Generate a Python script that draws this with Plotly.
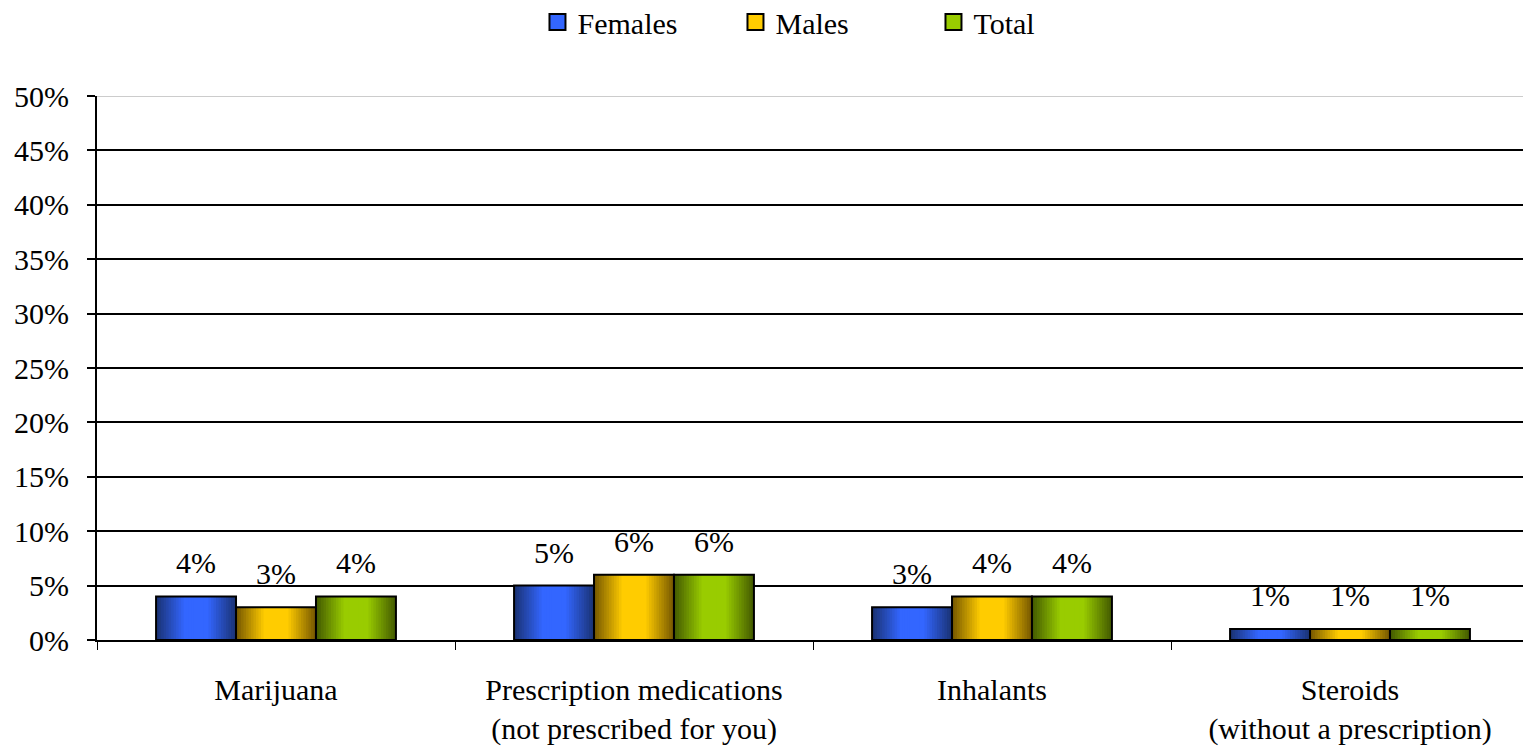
import plotly.graph_objects as go

categories = ["Marijuana", "Prescription medications<br>(not prescribed for you)", "Inhalants", "Steroids<br>(without a prescription)"]
females = [0.04, 0.05, 0.03, 0.01]
males = [0.03, 0.06, 0.04, 0.01]
total = [0.04, 0.06, 0.04, 0.01]
series_names = ["Females", "Males", "Total"]
series_values = [females, males, total]
bright_colors = ["#3366FF", "#FFCC00", "#99CC00"]
dark_colors = ["#1B3478", "#7A5B00", "#465E00"]

FONT = "Liberation Serif"
FS = 30
BAR_PX = 80      # pixel width of one bar (for label centring)
GROUP_FRAC = 0.67  # fraction of category occupied by bar group
N_LAYERS = 16    # layers used to imitate the horizontal shading


def hex2rgb(h):
    h = h.lstrip("#")
    return tuple(int(h[j:j + 2], 16) for j in (0, 2, 4))


def mix(c1, c2, t):
    a, b = hex2rgb(c1), hex2rgb(c2)
    return "rgb({},{},{})".format(*[round(a[j] + (b[j] - a[j]) * t) for j in range(3)])


bw = GROUP_FRAC / len(series_names)
fig = go.Figure()
for i, (name, vals) in enumerate(zip(series_names, series_values)):
    center = (i - (len(series_names) - 1) / 2) * bw
    for k in range(N_LAYERS):
        w = bw * (1 - k / N_LAYERS)
        t = min(1.0, k / (N_LAYERS * 0.68))
        fig.add_trace(go.Bar(
            x=categories, y=vals, showlegend=False, hoverinfo="skip" if k else None,
            width=w, offset=center - w / 2,
            marker=dict(color=mix(dark_colors[i], bright_colors[i], t), line=dict(width=0)),
        ))
    # outline
    fig.add_trace(go.Bar(
        x=categories, y=vals, name=name, showlegend=False, hoverinfo="skip",
        width=bw, offset=center - bw / 2,
        marker=dict(color="rgba(0,0,0,0)", line=dict(color="black", width=2)),
    ))
    # legend entry
    fig.add_trace(go.Scatter(
        x=[None], y=[None], mode="markers", name=name, showlegend=True,
        marker=dict(symbol="square", size=16, color=bright_colors[i], line=dict(color="black", width=2)),
    ))
    for cat, v in zip(categories, vals):
        fig.add_annotation(x=cat, y=v, text=f"{v:.0%}", showarrow=False,
                           yanchor="bottom", yshift=15, xshift=(i - 1) * BAR_PX,
                           font=dict(family=FONT, size=FS, color="black"))

fig.update_layout(
    width=1523, height=740,
    margin=dict(l=89, r=2, t=88, b=108, autoexpand=False),
    paper_bgcolor="white", plot_bgcolor="white",
    barmode="overlay",
    font=dict(family=FONT, size=FS, color="black"),
    legend=dict(orientation="h", x=0.515, xanchor="center", y=1.136, yanchor="middle",
                yref="paper", font=dict(family=FONT, size=FS), entrywidth=153,
                itemsizing="trace"),
    showlegend=True,
)
fig.update_xaxes(range=[-0.5, len(categories) - 0.5], showline=True, linecolor="black",
                 linewidth=2, ticks="outside", tickson="boundaries", ticklen=8, tickwidth=1,
                 tickcolor="black", ticklabelstandoff=22, tickfont=dict(family=FONT, size=FS))
fig.update_yaxes(range=[0, 0.5], dtick=0.05, tickformat=".0%", showline=True,
                 linecolor="black", linewidth=2, ticks="outside", ticklen=8,
                 tickcolor="black", tickwidth=2, showgrid=True, gridcolor="black",
                 gridwidth=2, zeroline=False, ticklabelstandoff=12,
                 tickfont=dict(family=FONT, size=FS))
fig.add_shape(type="line", xref="paper", yref="y", x0=0, x1=1, y0=0.5, y1=0.5,
              line=dict(color="#cccccc", width=2), layer="above")
fig.write_html("out.html")
